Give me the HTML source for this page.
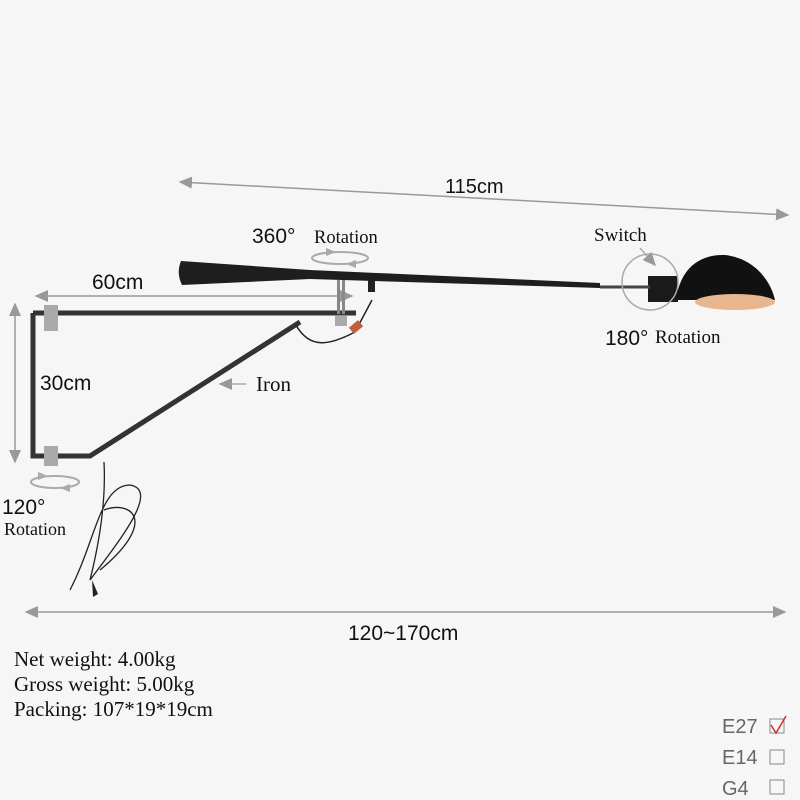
<!DOCTYPE html>
<html><head><meta charset="utf-8"><style>
html,body{margin:0;padding:0;background:#f6f6f6;}
svg{display:block}
.s{font-family:"Liberation Sans",sans-serif;fill:#111}
.r{font-family:"Liberation Serif",serif;fill:#111}
</style></head><body>
<svg width="800" height="800" viewBox="0 0 800 800" xmlns="http://www.w3.org/2000/svg">
<defs>
<marker id="a" markerWidth="10" markerHeight="10" refX="8" refY="5" orient="auto-start-reverse"><path d="M0,1 L9,5 L0,9 z" fill="#999"/></marker>
</defs>
<rect width="800" height="800" fill="#f6f6f6"/>
<line x1="180" y1="182" x2="788" y2="215" stroke="#999" stroke-width="1.5" marker-start="url(#a)" marker-end="url(#a)"/>
<text x="445" y="193" class="s" font-size="20">115cm</text>
<line x1="36" y1="296" x2="352" y2="296" stroke="#999" stroke-width="1.5" marker-start="url(#a)" marker-end="url(#a)"/>
<text x="92" y="289" class="s" font-size="21">60cm</text>
<line x1="15" y1="304" x2="15" y2="462" stroke="#999" stroke-width="1.5" marker-start="url(#a)" marker-end="url(#a)"/>
<text x="40" y="390" class="s" font-size="21">30cm</text>
<line x1="26" y1="612" x2="785" y2="612" stroke="#999" stroke-width="1.5" marker-start="url(#a)" marker-end="url(#a)"/>
<text x="348" y="640" class="s" font-size="21">120~170cm</text>
<!-- bracket -->
<path d="M33,313 H356 M33,313 V456 H90 L300,322" fill="none" stroke="#333" stroke-width="5"/>
<rect x="44" y="305" width="14" height="26" fill="#aaa"/>
<rect x="44" y="446" width="14" height="20" fill="#aaa"/>
<rect x="337" y="280" width="3" height="34" fill="#888"/>
<rect x="342" y="280" width="3" height="34" fill="#888"/>
<rect x="335" y="316" width="12" height="10" fill="#aaa"/>
<path d="M296,325 C310,350 330,345 355,332 L372,300" fill="none" stroke="#222" stroke-width="1.5"/>
<rect x="350" y="323" width="12" height="8" fill="#c0603a" transform="rotate(-40 356 327)"/>
<line x1="220" y1="384" x2="246" y2="384" stroke="#aaa" stroke-width="1.5" marker-start="url(#a)"/>
<text x="256" y="391" class="r" font-size="21">Iron</text>
<!-- cord -->
<path d="M104,462 C106,500 100,540 90,580 C120,540 160,490 130,485 C100,485 96,540 70,590 M104,510 C130,500 160,520 100,570" fill="none" stroke="#222" stroke-width="1.3"/>
<path d="M92,580 l6,14 l-5,3 z" fill="#222"/>
<!-- arm -->
<path d="M181,261 L310,270 L600,283 L600,288 L310,279 L182,285 Q176,273 181,261 z" fill="#1e1e1e"/>
<rect x="368" y="280" width="7" height="12" fill="#222"/>
<!-- head -->
<rect x="648" y="276" width="30" height="26" fill="#1a1a1a"/>
<path d="M676,300 C680,268 700,254 725,255 C752,258 770,278 775,300 Z" fill="#111"/>
<ellipse cx="735" cy="302" rx="40" ry="8" fill="#e8b58e"/>
<path d="M600,287 L650,287" stroke="#444" stroke-width="3"/>
<circle cx="650" cy="282" r="28" fill="none" stroke="#aaa" stroke-width="1.5"/>
<text x="594" y="241" class="r" font-size="19">Switch</text>
<line x1="640" y1="248" x2="655" y2="265" stroke="#aaa" stroke-width="1.5" marker-end="url(#a)"/>
<text x="605" y="345" class="s" font-size="21">180°</text>
<text x="655" y="343" class="r" font-size="19">Rotation</text>
<!-- 360 rotation -->
<text x="252" y="243" class="s" font-size="21">360°</text>
<text x="314" y="243" class="r" font-size="18.5">Rotation</text>
<ellipse cx="340" cy="258" rx="28" ry="6" fill="none" stroke="#aaa" stroke-width="2"/>
<path d="M326,248 l10,4 l-10,4 z M356,260 l-10,4 l10,4 z" fill="#aaa"/>
<!-- 120 rotation -->
<ellipse cx="55" cy="482" rx="24" ry="6" fill="none" stroke="#aaa" stroke-width="2"/>
<path d="M38,472 l10,4 l-10,4 z M70,484 l-10,4 l10,4 z" fill="#aaa"/>
<text x="2" y="514" class="s" font-size="21">120°</text>
<text x="4" y="535" class="r" font-size="18">Rotation</text>
<!-- specs -->
<text x="14" y="666" class="r" font-size="21">Net weight: 4.00kg</text>
<text x="14" y="691" class="r" font-size="21">Gross weight: 5.00kg</text>
<text x="14" y="716" class="r" font-size="21">Packing: 107*19*19cm</text>
<!-- options -->
<text x="722" y="733" class="s" font-size="20" style="fill:#666">E27</text>
<rect x="770" y="719" width="14" height="14" fill="none" stroke="#888"/>
<path d="M771,725 L776,733 L786,716" fill="none" stroke="#c33" stroke-width="1.5"/>
<text x="722" y="764" class="s" font-size="20" style="fill:#666">E14</text>
<rect x="770" y="750" width="14" height="14" fill="none" stroke="#888"/>
<text x="722" y="795" class="s" font-size="20" style="fill:#666">G4</text>
<rect x="770" y="780" width="14" height="14" fill="none" stroke="#888"/>
</svg>
</body></html>
